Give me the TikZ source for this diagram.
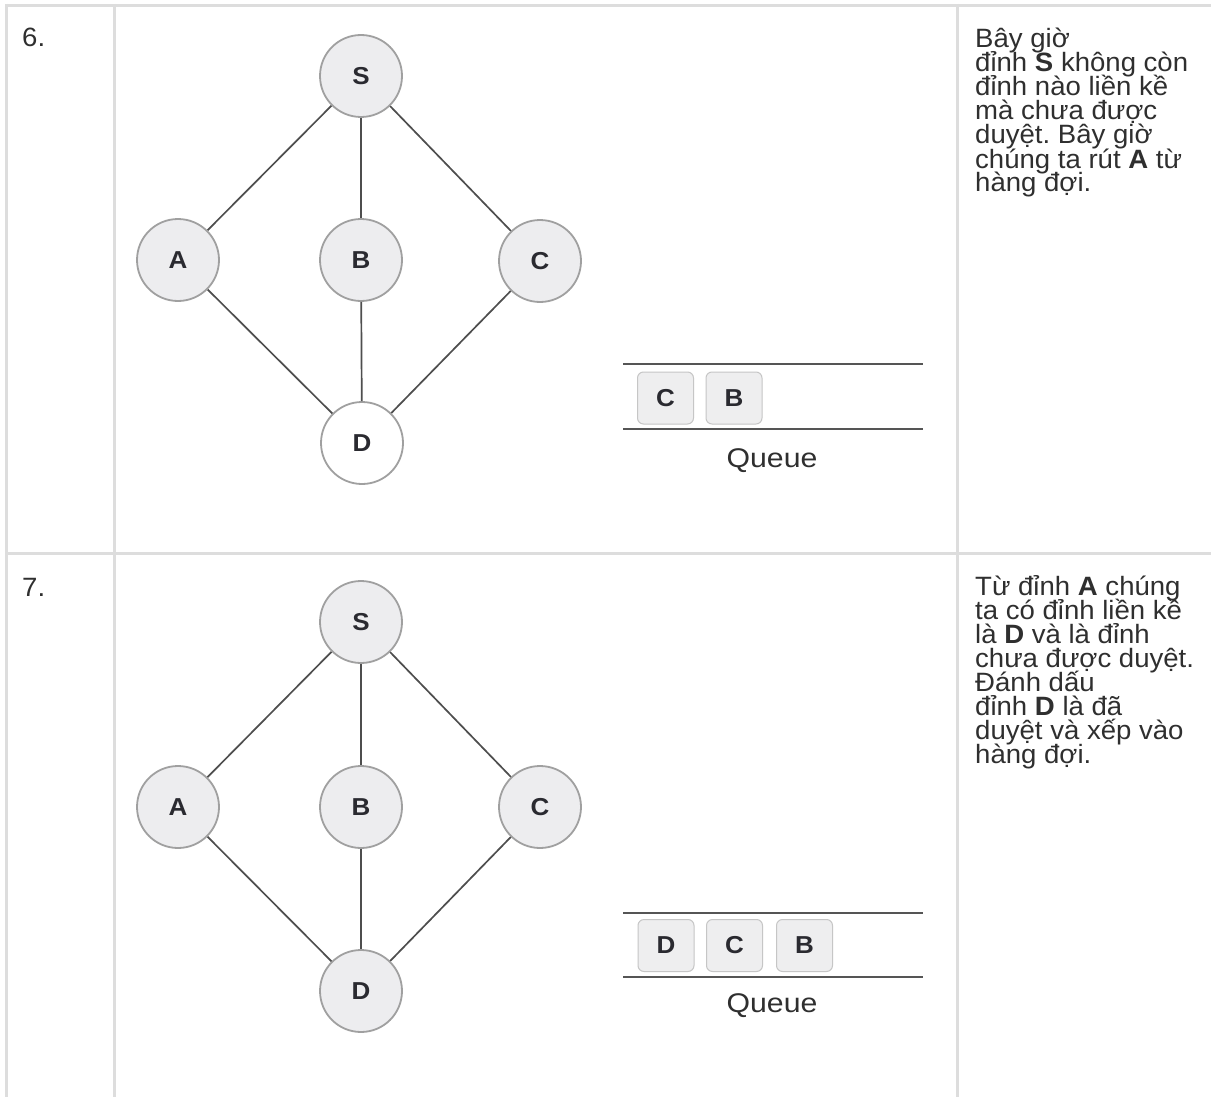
\documentclass[tikz,border=0pt]{standalone}
\usepackage{fontspec}
\setmainfont{Liberation Sans}
\newfontfamily\bodyfont[FakeStretch=1.04]{Liberation Sans}
\newfontfamily\gfont[FakeStretch=1.06]{Liberation Sans}
\newfontfamily\qfont[FakeStretch=1.12]{Liberation Sans}
\frenchspacing
\definecolor{tline}{HTML}{DDDDDD}
\definecolor{txtc}{HTML}{2F2F2F}
\definecolor{lblc}{HTML}{2A2A30}
\definecolor{nodefill}{HTML}{EDEDEF}
\definecolor{nodeborder}{HTML}{A0A0A0}
\definecolor{edgec}{HTML}{4E4E4E}
\definecolor{qlinec}{HTML}{555555}
\definecolor{boxfill}{HTML}{EEEEEF}
\definecolor{boxborder}{HTML}{C6C6C6}
\tikzset{
  vtx/.style={circle, minimum size=82pt, inner sep=0pt, fill=nodefill, draw=nodeborder,
    line width=1.8pt, font=\gfont\bfseries\fontsize{24.5}{24.5}\selectfont, text=lblc},
  vtxw/.style={vtx, fill=white},
  qbox/.style={rounded corners=6pt, minimum width=56pt, minimum height=52pt, inner sep=0pt,
    fill=boxfill, draw=boxborder, line width=1pt, font=\gfont\bfseries\fontsize{24.5}{24.5}\selectfont, text=lblc},
  edge/.style={draw=edgec, line width=1.7pt},
  qline/.style={draw=qlinec, line width=2pt},
  tableline/.style={draw=tline, line width=3pt},
  txtline/.style={anchor=base west, inner sep=0pt, font=\bodyfont\fontsize{26.5}{24}\selectfont, text=txtc},
  qlabel/.style={inner sep=0pt, font=\qfont\fontsize{27}{27}\selectfont, text=txtc}
}
\begin{document}
\begin{tikzpicture}[x=1pt,y=-1pt]
\useasboundingbox[fill=white] (0,0) rectangle (1211,1097);
% table grid
\draw[tableline] (5,5.5) -- (1211,5.5);
\draw[tableline] (5,553.5) -- (1211,553.5);
\draw[tableline] (6.5,4) -- (6.5,1097);
\draw[tableline] (114,4) -- (114,1097);
\draw[tableline] (957,4) -- (957,1097);
% step numbers
\node[txtline] (n6) at (22,47) {6.};
\node[txtline] (n7) at (22,596) {7.};
% ---- row 6 graph
\node[vtx]  (s6) at (361,76)  {S};
\node[vtx]  (a6) at (178,260) {A};
\node[vtx]  (b6) at (361,260) {B};
\node[vtx]  (c6) at (540,261) {C};
\node[vtxw] (d6) at (362,443) {D};
\draw[edge] (s6) -- (a6);
\draw[edge] (s6) -- (b6);
\draw[edge] (s6) -- (c6);
\draw[edge] (a6) -- (d6);
\draw[edge] (b6) -- (d6);
\draw[edge] (c6) -- (d6);
% row 6 queue
\draw[qline] (623,364) -- (923,364);
\draw[qline] (623,429) -- (923,429);
\node[qbox] (q6c) at (665.5,398) {C};
\node[qbox] (q6b) at (734,398) {B};
\node[qlabel] (q6l) at (772,461) {Queue};
% row 6 text
\node[txtline] (t61) at (975,48)  {Bây giờ};
\node[txtline] (t62) at (975,72)  {đỉnh \textbf{S} không còn};
\node[txtline] (t63) at (975,96)  {đỉnh nào liền kề};
\node[txtline] (t64) at (975,120) {mà chưa được};
\node[txtline] (t65) at (975,144) {duyệt. Bây giờ};
\node[txtline] (t66) at (975,168) {chúng ta rút \textbf{A} từ};
\node[txtline] (t67) at (975,192) {hàng đợi.};
% ---- row 7 graph
\node[vtx] (s7) at (361,622) {S};
\node[vtx] (a7) at (178,807) {A};
\node[vtx] (b7) at (361,807) {B};
\node[vtx] (c7) at (540,807) {C};
\node[vtx] (d7) at (361,991) {D};
\draw[edge] (s7) -- (a7);
\draw[edge] (s7) -- (b7);
\draw[edge] (s7) -- (c7);
\draw[edge] (a7) -- (d7);
\draw[edge] (b7) -- (d7);
\draw[edge] (c7) -- (d7);
% row 7 queue
\draw[qline] (623,913) -- (923,913);
\draw[qline] (623,977) -- (923,977);
\node[qbox] (q7d) at (666,945.5) {D};
\node[qbox] (q7c) at (734.5,945.5) {C};
\node[qbox] (q7b) at (804.5,945.5) {B};
\node[qlabel] (q7l) at (772,1006) {Queue};
% row 7 text
\node[txtline] (t71) at (975,595) {Từ đỉnh \textbf{A} chúng};
\node[txtline] (t72) at (975,619) {ta có đỉnh liền kề};
\node[txtline] (t73) at (975,643) {là \textbf{D} và là đỉnh};
\node[txtline] (t74) at (975,667) {chưa được duyệt.};
\node[txtline] (t75) at (975,691) {Đánh dấu};
\node[txtline] (t76) at (975,715) {đỉnh \textbf{D} là đã};
\node[txtline] (t77) at (975,739) {duyệt và xếp vào};
\node[txtline] (t78) at (975,763) {hàng đợi.};
\end{tikzpicture}
\end{document}
